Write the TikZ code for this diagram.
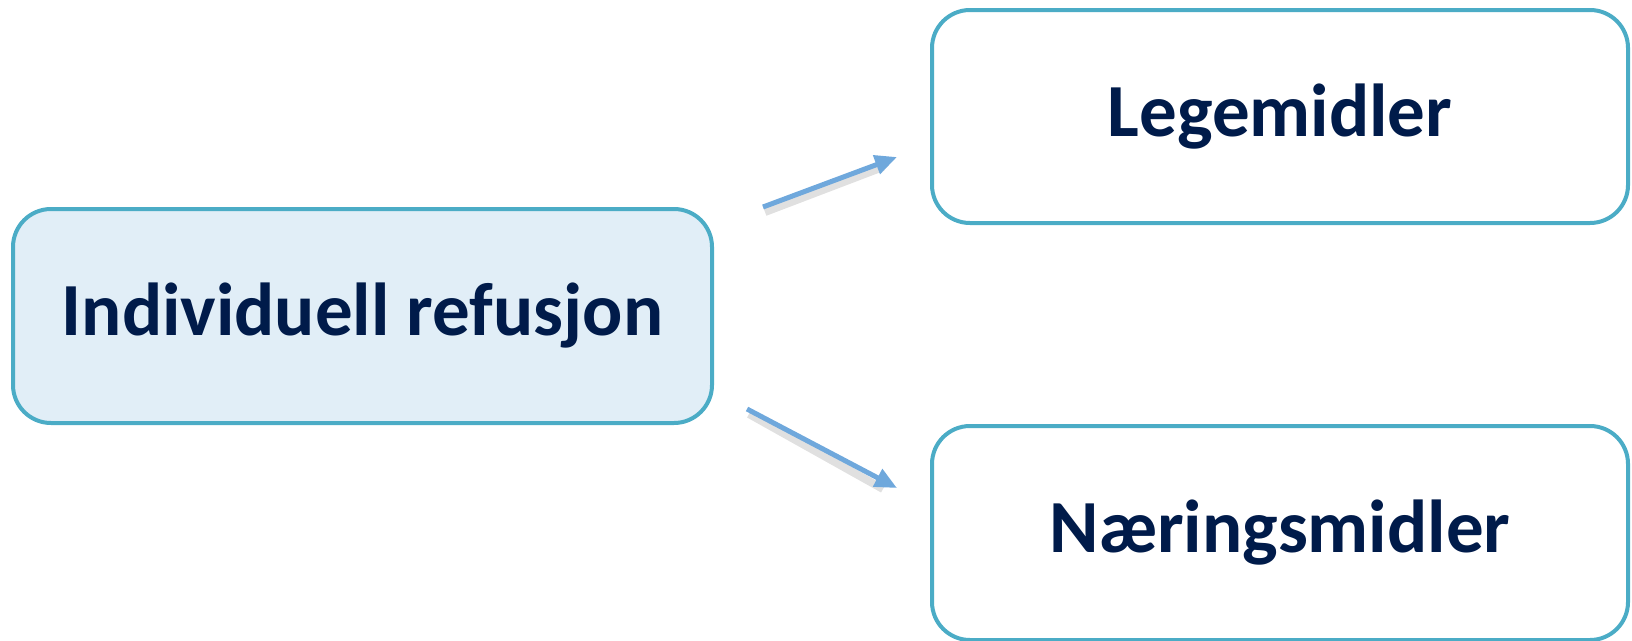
\documentclass[tikz,border=0pt]{standalone}
\usepackage{fontspec}
\setmainfont{Carlito}
\usetikzlibrary{arrows.meta}

\definecolor{boxline}{HTML}{4BACC6}
\definecolor{boxfill}{HTML}{E1EEF7}
\definecolor{boxtext}{HTML}{001B4A}
\definecolor{arrowblue}{HTML}{6FA8DC}

\begin{document}
\begin{tikzpicture}[%
    x=1pt, y=-1pt,
    >={Triangle[length=22pt,width=19pt]},
    box/.style={draw=boxline, line width=4pt, rounded corners=38pt,
      fill=white, inner sep=0pt, outer sep=0pt,
      font=\fontsize{75}{90}\selectfont\bfseries, text=boxtext},
    link/.style={->, draw=arrowblue, line width=5pt},
    linkshadow/.style={draw=black, opacity=0.12, line width=8pt}
  ]
    \useasboundingbox (0,0) rectangle (1632,640);

    \node[box, fill=boxfill, minimum width=699pt, minimum height=214pt] (ind) at (362.5,316) {Individuell refusjon};
    \node[box, minimum width=696pt, minimum height=213pt] (leg) at (1280,116.5) {Legemidler};
    \node[box, minimum width=696pt, minimum height=214pt] (naer) at (1280,533) {Næringsmidler};

    \coordinate (legfrom) at (763,207);
    \coordinate (legto) at (897,157);
    \coordinate (naerfrom) at (747,409);
    \coordinate (naerto) at (897,488);

    % shadows under the arrows
    \draw[linkshadow] ([shift={(2,5)}]legfrom) -- ([shift={(-14,10)}]legto);
    \draw[linkshadow] ([shift={(2,5)}]naerfrom) -- ([shift={(-14,1)}]naerto);

    \draw[link] (legfrom) -- (legto);
    \draw[link] (naerfrom) -- (naerto);
  \end{tikzpicture}
\end{document}
